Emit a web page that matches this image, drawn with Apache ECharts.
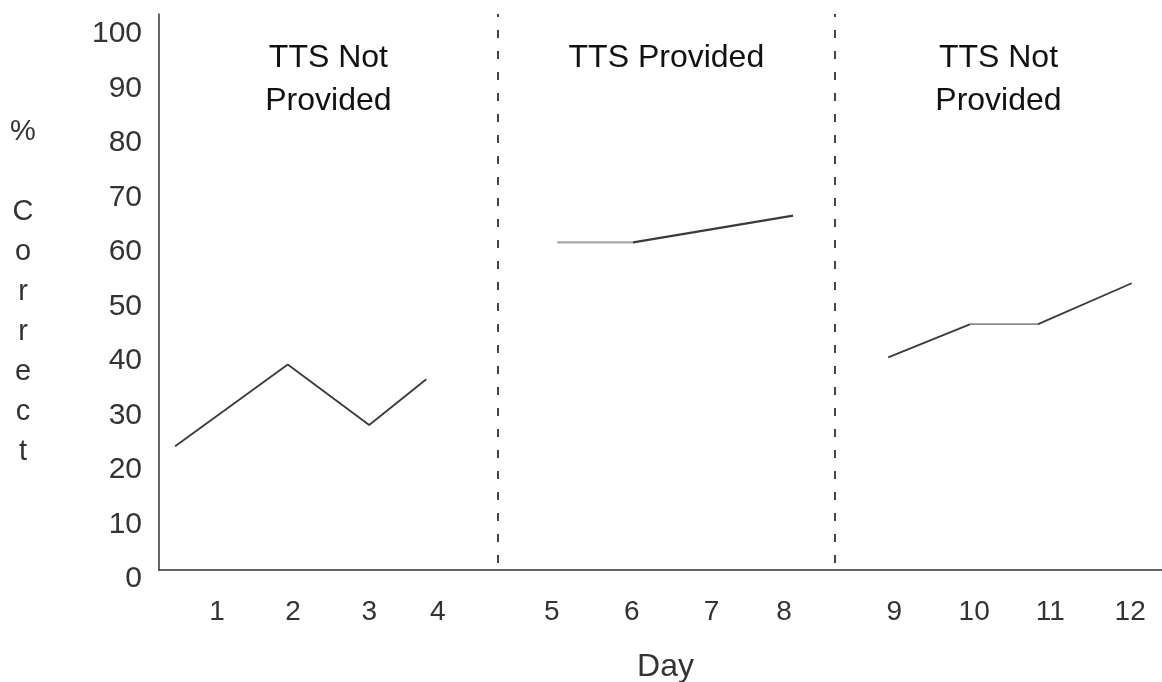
<!DOCTYPE html>
<html>
<head>
<meta charset="utf-8">
<script src="https://cdn.jsdelivr.net/npm/echarts@6/dist/echarts.min.js"></script>
<style>
html,body{margin:0;padding:0;background:#fff;}
#chart{width:1162px;height:682px;}
</style>
</head>
<body>
<div id="chart"></div>
<script>
// Tick labels of the day axis and their positions (gaps between phases)
var dayLabels = ['1','2','3','4','5','6','7','8','9','10','11','12'];
var dayPos    = [1, 2, 3, 3.9, 5.4, 6.45, 7.5, 8.45, 9.9, 10.95, 11.95, 13];

// Phase 1: TTS not provided
var phase1X = [0.45, 1.93, 3.0, 3.75];
var phase1Y = [22.7, 37.7, 26.6, 35.0];
// Phase 2: TTS provided
var phase2X = [5.47, 6.47, 8.57];
var phase2Y = [60.1, 60.1, 65.0];
// Phase 3: TTS not provided
var phase3X = [9.82, 10.9, 11.79, 13.02];
var phase3Y = [39.0, 45.1, 45.1, 52.6];

// Phase names and phase boundaries (dashed lines)
var phaseNames = ['TTS Not\nProvided', 'TTS Provided', 'TTS Not\nProvided'];
var phaseBreaks = [4.69, 9.12];

var yTicks = [0,10,20,30,40,50,60,70,80,90,100];

var xMin = 0.238, xMax = 13.418;
var FONT = '"Liberation Sans", Arial, Helvetica, sans-serif';

function pairs(xs, ys){ return xs.map(function(x,i){ return [x, ys[i]]; }); }

var bounds = [xMin].concat(phaseBreaks).concat([xMax]);
var areas = phaseNames.map(function(n,i){
  return [{ xAxis: bounds[i], name: n }, { xAxis: bounds[i+1] }];
});
var breakLines = phaseBreaks.map(function(b){
  return [{ coord: [b, 1.3] }, { coord: [b, 102] }];
});

var chart = echarts.init(document.getElementById('chart'), null, {renderer:'canvas'});
chart.setOption({
  animation: false,
  backgroundColor: '#fff',
  textStyle: { fontFamily: FONT },
  grid: { left: 159, right: 0, top: 14, bottom: 112, containLabel: false, outerBoundsMode: 'none' },
  visualMap: {
    show: false, type: 'piecewise', dimension: 0, seriesIndex: [0,1,2],
    pieces: [
      { gte: 5.4, lte: 6.47, color: '#a9a9a9' },
      { gte: 10.9, lte: 11.79, color: '#8c8c8c' }
    ],
    outOfRange: { color: '#3a3a3a' }
  },
  xAxis: {
    type: 'value', min: xMin, max: xMax,
    name: 'Day', nameLocation: 'middle', nameGap: 81,
    nameTextStyle: { fontSize: 32, color: '#333', fontFamily: FONT, padding: [0, 0, 0, 10] },
    axisLine: { show: true, lineStyle: { color: '#333', width: 1.5 } },
    axisTick: { show: false },
    splitLine: { show: false },
    axisLabel: {
      customValues: dayPos,
      margin: 28, fontSize: 28, color: '#333', fontFamily: FONT,
      formatter: function(v){
        for (var i=0;i<dayPos.length;i++){ if (Math.abs(dayPos[i]-v)<1e-6) return dayLabels[i]; }
        return '';
      }
    }
  },
  yAxis: {
    type: 'value', min: 0, max: 102,
    name: '%\n\nC\no\nr\nr\ne\nc\nt', nameLocation: 'middle', nameRotate: 0, nameGap: 136,
    nameTextStyle: { fontSize: 29, color: '#333', lineHeight: 40, align: 'center', verticalAlign: 'middle', fontFamily: FONT },
    axisLine: { show: true, lineStyle: { color: '#333', width: 1.5 } },
    axisTick: { show: false },
    splitLine: { show: false },
    axisLabel: {
      customValues: yTicks,
      margin: 17, fontSize: 30, color: '#333', fontFamily: FONT,
      verticalAlign: 'top', lineHeight: 18
    }
  },
  series: [
    { type: 'line', data: pairs(phase1X, phase1Y), symbol: 'none', lineStyle: { width: 1.8 },
      markArea: {
        silent: true,
        itemStyle: { color: 'rgba(0,0,0,0)' },
        label: { show: true, position: 'insideTop', distance: 23, fontSize: 32, lineHeight: 43, color: '#111', fontFamily: FONT },
        data: areas
      },
      markLine: {
        silent: true, symbol: ['none','none'],
        label: { show: false },
        lineStyle: { type: [8, 13], color: '#444', width: 2 },
        data: breakLines
      }
    },
    { type: 'line', data: pairs(phase2X, phase2Y), symbol: 'none', lineStyle: { width: 2.2 } },
    { type: 'line', data: pairs(phase3X, phase3Y), symbol: 'none', lineStyle: { width: 1.8 } }
  ]
});
</script>
</body>
</html>
